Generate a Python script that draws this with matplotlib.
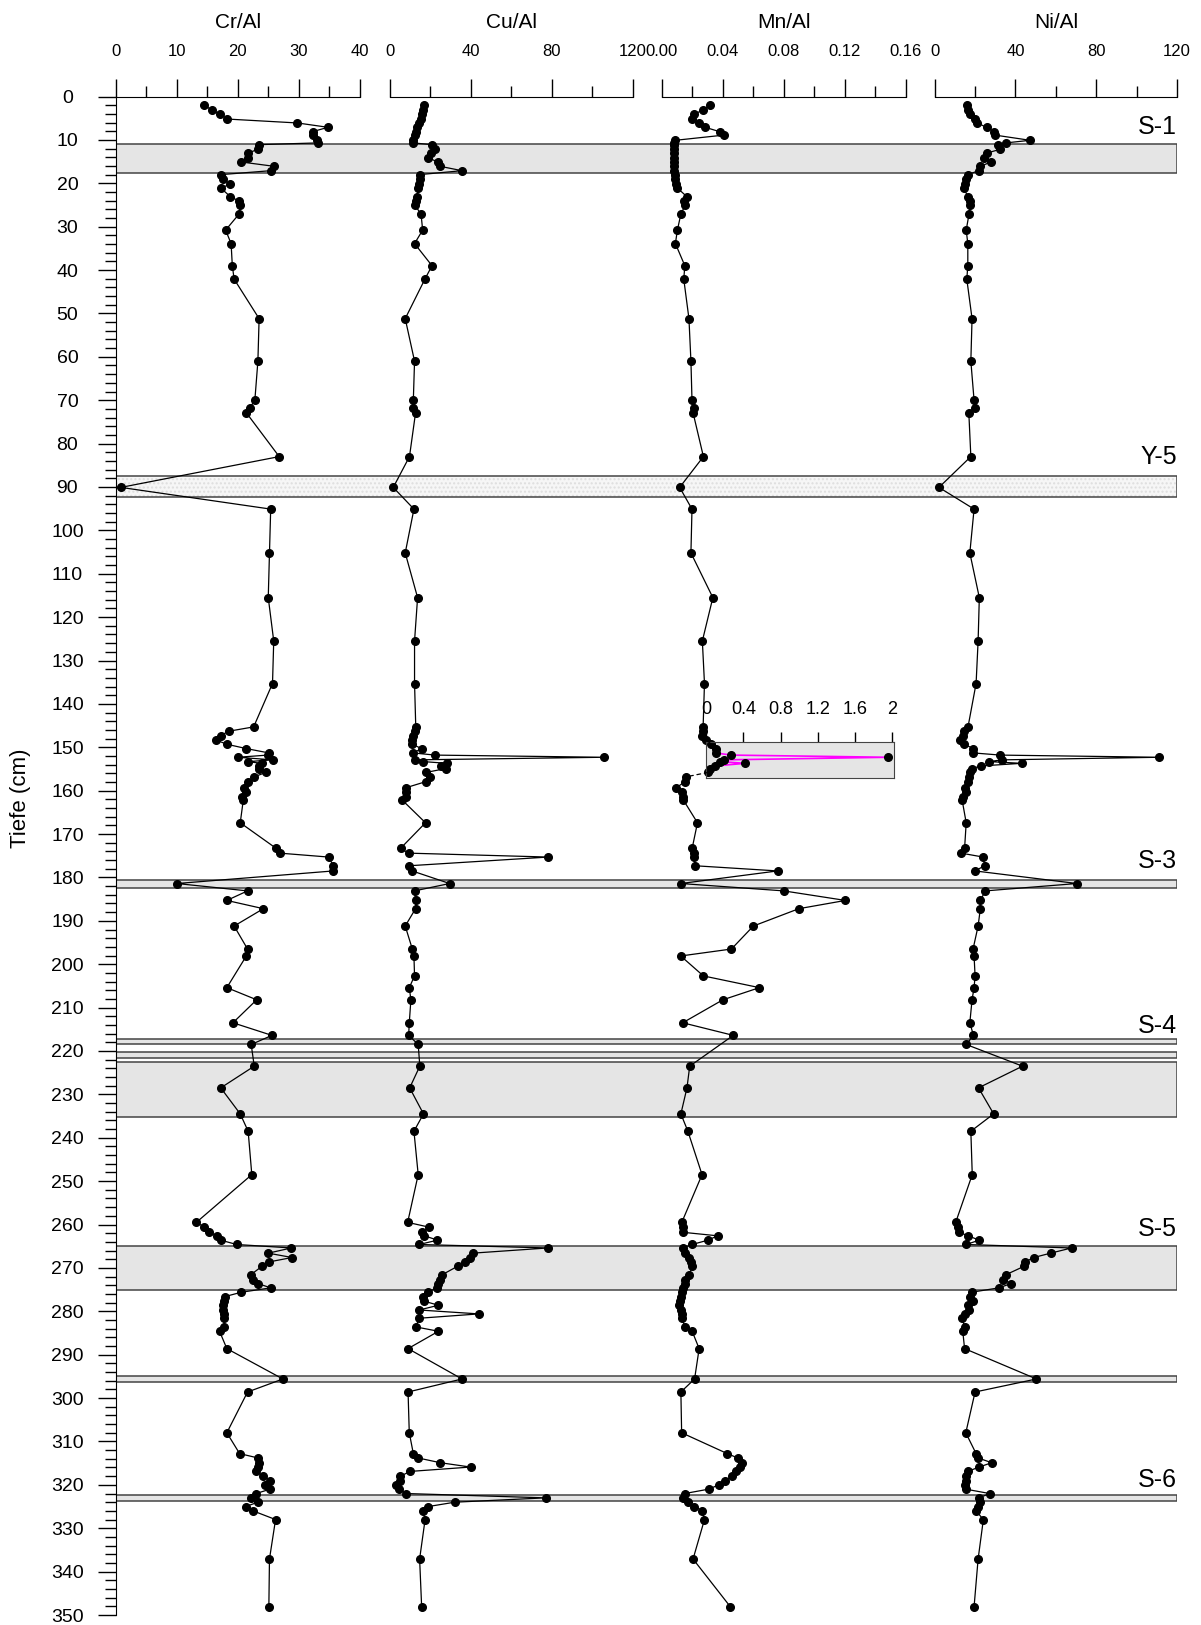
import numpy as np
import matplotlib

matplotlib.use("Agg")
import matplotlib.pyplot as plt
from matplotlib.patches import ConnectionPatch
from matplotlib.ticker import MultipleLocator, FormatStrFormatter

plt.rcParams["font.family"] = ["Liberation Sans", "DejaVu Sans"]

nan = np.nan

# sample depths (cm), shared by all four records
depth = [
    2.0, 3.1, 4.1, 5.2, 6.1, 7.1, 8.1, 8.9, 10.1, 10.7, 11.1, 12.2, 13.0, 14.1, 15.1, 16.1, 17.1,
    18.0, 19.1, 20.2, 21.1, 23.1, 24.1, 25.1, 27.1,
    30.8, 33.9, 39.0, 42.1, 51.2, 61.0, 70.0, 71.7, 72.9, 83.0, 90.1, 95.1, 105.2, 115.5, 125.5, 135.3,
    145.3, 146.3, 147.3, 148.3, 149.3, 150.3, 151.3, 151.8, 152.3, 152.9, 153.3, 153.7, 154.3, 154.9,
    155.8, 156.8, 157.9, 159.3, 160.2, 161.4, 162.2, 167.4, 173.3, 174.4, 175.3, 177.3, 178.5, 181.4,
    183.1, 185.3, 187.2, 191.2, 196.5, 198.1, 202.7, 205.4, 208.2, 213.5, 216.4,
    218.5, 223.5, 228.5, 234.5, 238.5, 248.5,
    259.5, 260.6, 261.8, 262.6, 263.6, 264.6, 265.4, 266.6, 267.6, 268.6, 269.6, 271.6, 272.7, 273.6,
    274.6, 275.6, 276.6, 277.7, 278.6, 279.7, 280.6, 281.6, 283.6, 284.6, 288.6, 295.6, 298.6,
    308.0, 312.8, 313.8, 314.9, 315.9, 316.9, 318.0, 319.0, 320.0, 321.0, 322.0, 323.0, 324.0, 325.0,
    326.0, 328.0, 337.1, 348.1,
]

cr_al = [
    14.5, 15.7, 17.1, 18.3, 29.8, 34.8, 32.3, 32.4, 33.0, 33.1, 23.4, 23.3, 21.7, 21.6, 20.6, 26.0, 25.4,
    17.3, 17.5, 18.8, 17.2, 18.8, 20.2, 20.4, 20.2,
    18.0, 18.9, 19.1, 19.4, 23.5, 23.3, 22.8, 22.0, 21.4, 26.8, 0.8, 25.4, 25.2, 25.0, 25.9, 25.7,
    22.6, 18.5, 17.2, 16.4, 18.2, 21.4, 25.1, 24.9, 20.0, 25.8, 21.6, 23.9, 23.5, 23.4,
    24.6, 22.7, 21.7, 21.1, 21.4, 20.7, 20.9, 20.4, 26.3, 26.9, 34.9, 35.7, 35.7, 10.0,
    21.6, 18.2, 24.2, 19.4, 21.6, 21.4, nan, 18.2, 23.1, 19.2, 25.6,
    22.2, 22.7, 17.2, 20.4, 21.7, 22.3,
    13.2, 14.5, 15.3, 16.6, 17.2, 19.8, 28.8, 25.0, 28.9, 25.2, 24.0, 22.1, 22.5, 23.3,
    25.4, 20.6, 17.9, 17.8, 17.5, 17.5, 17.8, 17.7, 17.8, 17.0, 18.2, 27.4, 21.6,
    18.2, 20.3, 23.3, 23.5, 23.3, 23.0, 24.2, 25.3, 24.4, 25.3, 23.0, 22.1, 23.3, 21.3,
    22.5, 26.2, 25.2, 25.1,
]

cu_al = [
    17.2, 16.3, 16.0, 15.5, 14.6, 13.7, 12.9, 12.3, 11.6, 11.6, 21.1, 22.4, 20.3, 18.9, 23.8, 25.0, 35.7,
    14.9, 14.9, 14.5, 14.2, 13.4, 12.9, 12.5, 15.5,
    16.3, 12.3, 20.9, 17.4, 7.7, 12.3, 11.7, 11.7, 12.8, 9.8, 1.8, 12.0, 7.7, 13.8, 12.3, 12.3,
    12.9, 12.3, 11.6, 10.8, 11.1, 15.8, 11.6, 22.4, 105.7, 12.5, 16.7, 28.4, 25.5, 27.6,
    18.0, 19.8, 18.0, 8.2, 8.0, 8.0, 6.3, 17.7, 5.4, 9.4, 78.2, 9.8, 11.1, 29.6,
    12.3, 12.8, 12.8, 7.7, 11.2, 12.0, 12.3, 9.7, 10.5, 9.7, 9.4,
    14.1, 14.9, 9.9, 16.7, 12.0, 14.1,
    8.9, 19.4, 16.0, 17.2, 23.6, 14.6, 78.0, 40.9, 39.7, 37.1, 33.6, 25.8, 25.0, 24.1,
    23.2, 18.9, 16.3, 17.2, 24.1, 14.6, 44.0, 14.6, 12.9, 24.1, 9.1, 35.7, 9.1,
    9.7, 11.7, 14.0, 25.0, 39.9, 10.3, 5.2, 5.2, 3.1, 4.5, 8.2, 76.9, 32.1, 19.1,
    16.4, 17.5, 14.8, 15.8,
]

# Mn/Al on the main scale; rows shown in the inset are nan here
mn_al = [
    0.0318, 0.0270, 0.0210, 0.0198, 0.0240, 0.0284, 0.0378, 0.0406, 0.0087, 0.0082, 0.0080, 0.0080,
    0.0078, 0.0078, 0.0078, 0.0078, 0.0080, 0.0083, 0.0086, 0.0095, 0.0101, 0.0164, 0.0145, 0.0152, 0.0124,
    0.0101, 0.0088, 0.0150, 0.0143, 0.0177, 0.0190, 0.0197, 0.0210, 0.0204, 0.0272, 0.0116, 0.0197,
    0.0190, 0.0334, 0.0265, 0.0279,
    0.0270, 0.0267, 0.0261, 0.0290, nan, nan, nan, nan, nan, nan, nan, nan, nan, nan,
    nan, 0.0159, 0.0152, 0.0095, 0.0129, 0.0141, 0.0141, 0.0233, 0.0198, 0.0210, 0.0212, 0.0214, 0.0759, 0.0124,
    0.0800, 0.1205, 0.0899, 0.0600, 0.0456, 0.0123, 0.0272, 0.0640, 0.0400, 0.0136, 0.0468,
    nan, 0.0182, 0.0164, 0.0124, 0.0170, 0.0263,
    0.0130, 0.0136, 0.0140, 0.0365, 0.0302, 0.0198, 0.0136, 0.0152, 0.0175, 0.0190, 0.0198, 0.0180,
    0.0152, 0.0152, 0.0141, 0.0129, 0.0124, 0.0118, 0.0110, 0.0124, 0.0129, 0.0129, 0.0152, 0.0198,
    0.0244, 0.0214, 0.0124,
    0.0129, 0.0429, 0.0497, 0.0524, 0.0511, 0.0483, 0.0463, 0.0415, 0.0374, 0.0306, 0.0150, 0.0136,
    0.0170, 0.0211, 0.0266, 0.0279, 0.0204, 0.0449,
]

# Mn/Al values too large for the main scale (inset, 0-2)
mn_inset_depth = [149.3, 150.3, 151.3, 151.8, 152.3, 152.9, 153.3, 153.7, 154.3, 154.9, 155.8]
mn_inset = [0.056, 0.10, 0.10, 0.27, 1.95, 0.19, 0.15, 0.42, 0.094, 0.045, 0.019]

ni_al = [
    16.2, 16.5, 17.4, 20.0, 21.0, 25.7, 29.6, 29.9, 47.3, 35.1, 31.3, 32.2, 26.1, 24.4, 27.8, 22.6, 21.7,
    16.5, 15.6, 15.0, 14.3, 16.5, 17.4, 17.4, 17.0,
    15.6, 16.4, 16.4, 15.9, 18.5, 17.9, 19.5, 20.0, 16.9, 17.9, 2.1, 19.5, 17.4, 22.1, 21.5, 20.5,
    16.5, 14.5, 13.9, 12.7, 14.5, 19.2, 19.2, 32.5, 111.3, 33.1, 27.0, 43.0, 23.0, 18.3,
    17.4, 17.0, 16.5, 14.8, 15.6, 13.9, 13.6, 15.6, 14.8, 13.1, 24.0, 24.7, 20.0, 70.4,
    25.1, 22.6, 22.6, 21.5, 19.0, 19.5, 20.0, 19.5, 18.5, 17.4, 19.2,
    15.6, 43.5, 21.7, 29.2, 17.9, 18.6,
    10.4, 11.5, 12.2, 16.5, 22.1, 15.6, 67.8, 57.4, 49.1, 44.9, 44.4, 35.1, 33.9, 37.8,
    31.8, 18.3, 17.7, 18.8, 16.5, 17.0, 14.8, 13.6, 14.8, 13.9, 14.8, 50.4, 20.0,
    15.4, 20.5, 21.5, 28.2, 22.0, 16.4, 15.4, 15.4, 14.9, 15.4, 27.2, 22.0, 22.6, 21.5,
    20.5, 24.1, 21.5, 19.5,
]

# tephra / marker layers (top, bottom in cm)
band_top = [11.0, 87.4, 180.5, 217.3, 220.3, 222.5, 264.9, 294.8, 322.4]
band_bot = [17.7, 92.2, 182.5, 218.5, 221.6, 235.2, 275.1, 296.4, 323.7]
band_label = ["S-1", "Y-5", "S-3", "S-4", "", "", "S-5", "", "S-6"]
label_depth = [7.0, 83.2, 176.2, 214.2, None, None, 261.0, None, 318.9]

W, H = 1201, 1625
TOP, BOT = 96.5, 1615.0


def rect(x0, x1, y0=TOP, y1=BOT):
    return [x0 / W, 1 - y1 / H, (x1 - x0) / W, (y1 - y0) / H]


fig = plt.figure(figsize=(W / 100, H / 100), dpi=100)

# background axes for the layer bands
bg = fig.add_axes(rect(116, 1177))
bg.set_xlim(0, 1)
bg.set_ylim(350, 0)
bg.axis("off")
for t, b, lab in zip(band_top, band_bot, band_label):
    if lab == "Y-5":
        bg.axhspan(t, b, facecolor="#f6f6f6", edgecolor="#dedede", hatch="....", lw=0)
        bg.axhspan(t, b, facecolor="none", edgecolor="#444444", lw=1.1)
    else:
        bg.axhspan(t, b, facecolor="#e5e5e5", edgecolor="#444444", lw=1.1)
for lab, ld in zip(band_label, label_depth):
    if lab:
        bg.text(1.0, ld, lab, ha="right", va="center", fontsize=18)

depth_a = np.array(depth)
panels = [
    ("Cr/Al", cr_al, 116, 359.6, 40, 10, 5, "%d"),
    ("Cu/Al", cu_al, 389.6, 633, 120, 40, 20, "%d"),
    ("Mn/Al", mn_al, 662, 905.6, 0.16, 0.04, 0.02, "%.2f"),
    ("Ni/Al", ni_al, 934.7, 1177, 120, 40, 20, "%d"),
]

axes = []
for i, (name, vals, x0, x1, vmax, major, minor, fmt) in enumerate(panels):
    ax = fig.add_axes(rect(x0, x1))
    ax.set_facecolor("none")
    ax.set_xlim(0, vmax)
    ax.set_ylim(350, 0)
    vals = np.array(vals, dtype=float)
    if name == "Mn/Al":
        segs = (depth_a < 149, depth_a > 156.5)
    else:
        segs = (np.ones(len(depth_a), dtype=bool),)
    for seg in segs:
        m = seg & np.isfinite(vals)
        ax.plot(vals[m], depth_a[m], "-o", color="black", lw=0.9, ms=5.5, clip_on=False)

    ax.xaxis.tick_top()
    ax.xaxis.set_major_locator(MultipleLocator(major))
    ax.xaxis.set_minor_locator(MultipleLocator(minor))
    ax.xaxis.set_major_formatter(FormatStrFormatter(fmt))
    ax.tick_params(axis="x", which="major", direction="out", length=13, width=1, pad=14, labelsize=12)
    ax.tick_params(axis="x", which="minor", direction="out", length=8, width=1)
    ax.annotate(name, xy=(0.5, 1), xycoords="axes fraction", xytext=(0, 53),
                textcoords="offset points", ha="center", va="center", fontsize=15)
    for s in ("right", "bottom"):
        ax.spines[s].set_visible(False)
    if i == 0:
        ax.yaxis.set_major_locator(MultipleLocator(10))
        ax.yaxis.set_minor_locator(MultipleLocator(2))
        ax.tick_params(axis="y", which="major", direction="out", length=13, width=1, pad=22, labelsize=14)
        ax.tick_params(axis="y", which="minor", direction="out", length=8, width=1)
        for lab in ax.get_yticklabels():
            lab.set_horizontalalignment("center")
        ax.set_ylabel("Tiefe (cm)", fontsize=16)
        ax.yaxis.set_label_coords(-0.35, 0.538)
    else:
        ax.spines["left"].set_visible(False)
        ax.set_yticks([])
    axes.append(ax)

# inset for the large Mn/Al values
ax_mn = axes[2]
ins = fig.add_axes(rect(706.2, 894.2, TOP + 148.7 * (BOT - TOP) / 350, TOP + 157.0 * (BOT - TOP) / 350))
ins.set_facecolor("#e5e5e5")
ins.set_xlim(0, 2.02)
ins.set_ylim(157.0, 148.7)
ins.plot(mn_inset, mn_inset_depth, "-", color="#ff00ff", lw=1.2)
ins.plot(mn_inset, mn_inset_depth, "o", color="black", ms=5.5, clip_on=False)
ins.xaxis.tick_top()
ins.set_xticks([0, 0.4, 0.8, 1.2, 1.6, 2])
ins.set_xticklabels(["0", "0.4", "0.8", "1.2", "1.6", "2"])
ins.tick_params(axis="x", direction="out", length=7, width=1, pad=10, labelsize=13)
ins.set_yticks([])
for s in ins.spines.values():
    s.set_color("#444444")

mn_arr = np.array(mn_al, dtype=float)
i_top = int(np.where(depth_a < 149)[0][-1])
i_bot = int(np.where(depth_a > 156.5)[0][0])
fig.add_artist(ConnectionPatch(xyA=(mn_arr[i_top], depth_a[i_top]), coordsA=ax_mn.transData,
                               xyB=(mn_inset[0], mn_inset_depth[0]), coordsB=ins.transData,
                               color="black", lw=0.9))
fig.add_artist(ConnectionPatch(xyA=(mn_inset[-1], mn_inset_depth[-1]), coordsA=ins.transData,
                               xyB=(mn_arr[i_bot], depth_a[i_bot]), coordsB=ax_mn.transData,
                               color="black", lw=0.9, linestyle=(0, (3, 3))))

fig.savefig("out.png", dpi=100)
